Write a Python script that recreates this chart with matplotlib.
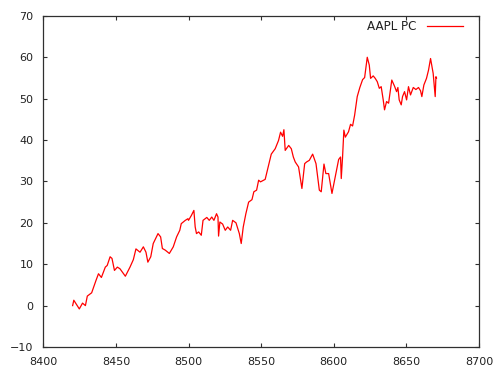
import matplotlib
matplotlib.use("Agg")
import matplotlib.pyplot as plt

x = [8420.2, 8421.0, 8424.8, 8427.0, 8429.0, 8430.3, 8433.3, 8436.3, 8438.0, 8440.0,
     8442.7, 8444.0, 8446.0, 8447.3, 8449.0, 8451.0, 8452.8, 8456.5, 8459.7, 8462.0,
     8463.8, 8466.6, 8468.9, 8470.7, 8472.0, 8474.0, 8475.7, 8479.0, 8480.8, 8482.0,
     8484.0, 8486.8, 8489.5, 8491.8, 8494.0, 8495.0, 8497.8, 8499.6, 8500.0, 8502.0,
     8503.7, 8504.6, 8505.5, 8507.0, 8508.8, 8510.0, 8512.6, 8514.3, 8516.0, 8517.5,
     8519.3, 8520.3, 8520.7, 8521.6, 8523.5, 8525.3, 8527.0, 8529.0, 8530.4, 8532.7,
     8535.0, 8536.3, 8537.7, 8539.5, 8541.4, 8543.7, 8545.0, 8546.9, 8548.3, 8549.6,
     8552.8, 8555.1, 8557.0, 8559.7, 8562.0, 8563.4, 8564.8, 8565.7, 8566.6, 8569.0,
     8570.8, 8572.2, 8573.5, 8575.8, 8578.1, 8580.0, 8581.3, 8583.2, 8585.5, 8587.8,
     8590.1, 8591.4, 8593.3, 8594.6, 8596.5, 8598.8, 8601.5, 8603.4, 8604.7, 8605.2,
     8606.1, 8607.0, 8608.0, 8610.2, 8611.6, 8613.0, 8614.4, 8616.2, 8618.0, 8619.9,
     8621.3, 8623.1, 8624.5, 8625.4, 8627.2, 8628.6, 8630.0, 8631.4, 8632.7, 8634.1,
     8635.0, 8636.4, 8637.8, 8640.0, 8641.9, 8643.3, 8644.2, 8645.1, 8646.5, 8647.4,
     8648.8, 8650.2, 8651.5, 8652.9, 8654.8, 8656.6, 8658.4, 8659.8, 8660.7, 8662.1,
     8663.9, 8665.3, 8666.7, 8668.5, 8669.9, 8670.4, 8670.8]
y = [0.0, 1.3, -0.8, 0.6, 0.0, 2.3, 3.1, 6.1, 7.7, 6.8,
     9.3, 9.7, 11.8, 11.4, 8.5, 9.3, 8.9, 7.1, 9.3, 11.1,
     13.7, 12.9, 14.2, 12.9, 10.5, 11.8, 15.0, 17.4, 16.6, 13.8,
     13.4, 12.6, 14.2, 16.6, 18.2, 19.8, 20.6, 21.0, 20.6, 21.8,
     23.0, 19.0, 17.4, 17.8, 17.0, 20.6, 21.3, 20.6, 21.4, 20.6,
     22.2, 21.4, 16.8, 20.2, 19.7, 18.2, 19.0, 18.2, 20.6, 20.0,
     17.4, 15.0, 19.0, 22.2, 25.0, 25.6, 27.5, 27.9, 30.3, 29.9,
     30.5, 33.9, 36.6, 37.9, 39.9, 41.9, 40.9, 42.5, 37.5, 38.7,
     37.9, 35.9, 34.7, 33.5, 28.3, 34.3, 34.7, 35.1, 36.6, 34.3,
     27.9, 27.5, 34.2, 31.9, 31.9, 27.1, 31.9, 35.3, 35.9, 30.7,
     35.9, 42.4, 40.7, 42.0, 43.8, 43.4, 46.0, 50.5, 52.7, 54.6,
     55.1, 60.0, 58.1, 54.9, 55.5, 54.9, 54.1, 52.5, 52.9, 49.7,
     47.3, 49.3, 48.9, 54.5, 53.0, 51.7, 52.7, 49.7, 48.5, 50.5,
     51.7, 49.7, 52.9, 50.9, 52.7, 52.2, 52.7, 51.9, 50.5, 53.3,
     54.9, 56.9, 59.7, 56.1, 50.5, 55.3, 55.0]

series_label = "AAPL PC"
xticks = [8400, 8450, 8500, 8550, 8600, 8650, 8700]
yticks = [-10, 0, 10, 20, 30, 40, 50, 60, 70]

plt.rcParams['font.family'] = ['DejaVu Sans']
fig = plt.figure(figsize=(5.03, 3.78), dpi=100)
ax = fig.add_axes([0.0861, 0.082, 0.866, 0.876])
ax.plot(x, y, color='#ff0000', lw=0.9, label=series_label)
ax.set_xlim(8400, 8700)
ax.set_ylim(-10, 70)
ax.set_xticks(xticks)
ax.set_yticks(yticks)
ax.tick_params(direction='in', length=3, width=0.8, color='#303030',
               top=True, right=True, labelsize=8, labelcolor='#222222', pad=7)
for s in ax.spines.values():
    s.set_color('#303030')
    s.set_linewidth(0.9)
leg = ax.legend(loc='upper right', frameon=False, markerfirst=False,
                fontsize=8.6, handlelength=3.0, borderaxespad=0,
                handletextpad=0.9, bbox_to_anchor=(0.974, 1.002))
for t in leg.get_texts():
    t.set_color('#222222')
fig.savefig('out.png', dpi=100)
